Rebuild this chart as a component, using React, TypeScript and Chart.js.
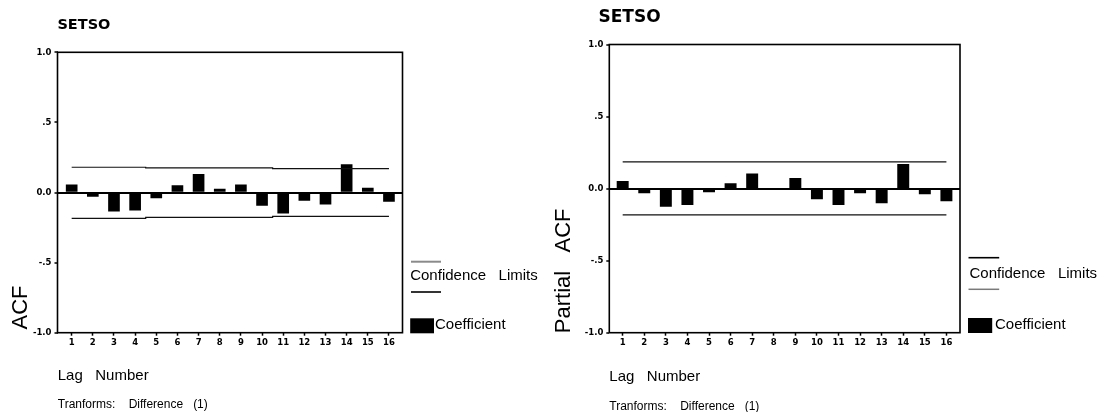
import React, { useEffect, useRef } from 'react';
import { Chart, registerables } from 'chart.js';

Chart.register(...registerables);

// ---------- data ----------
const lags = [1, 2, 3, 4, 5, 6, 7, 8, 9, 10, 11, 12, 13, 14, 15, 16];

const acfCoefficient = [0.055, -0.028, -0.133, -0.126, -0.038, 0.05, 0.13, 0.024, 0.055, -0.093, -0.147, -0.057, -0.083, 0.2, 0.031, -0.064];
const acfUpperLimit = [0.18, 0.18, 0.18, 0.18, 0.176, 0.176, 0.176, 0.176, 0.176, 0.176, 0.171, 0.171, 0.171, 0.171, 0.171, 0.171];
const acfLowerLimit = [-0.185, -0.185, -0.185, -0.185, -0.178, -0.178, -0.178, -0.178, -0.178, -0.178, -0.171, -0.171, -0.171, -0.171, -0.171, -0.171];

const pacfCoefficient = [0.051, -0.03, -0.123, -0.111, -0.023, 0.035, 0.102, -0.008, 0.072, -0.072, -0.111, -0.03, -0.099, 0.169, -0.037, -0.086];
const pacfUpperLimit = [0.185, 0.185, 0.185, 0.185, 0.185, 0.185, 0.185, 0.185, 0.185, 0.185, 0.185, 0.185, 0.185, 0.185, 0.185, 0.185];
const pacfLowerLimit = [-0.183, -0.183, -0.183, -0.183, -0.183, -0.183, -0.183, -0.183, -0.183, -0.183, -0.183, -0.183, -0.183, -0.183, -0.183, -0.183];

const yTickValues = [-1, -0.5, 0, 0.5, 1];
const yTickLabels = ['-1.0', '-.5', '0.0', '.5', '1.0'];

const seriesName = 'SETSO';
const xAxisTitle = 'Lag   Number';
const transformNote = 'Tranforms:    Difference   (1)';
const legendLimits = 'Confidence   Limits';
const legendCoefficient = 'Coefficient';

// ---------- layout ----------
interface Geo {
  canvasW: number;
  canvasH: number;
  canvasLeft: number;
  areaLeft: number;
  areaRight: number;
  areaTop: number;
  areaBottom: number;
  xMin: number;
  xMax: number;
  barW: number;
  tickFont: number;
  title: { x: number; y: number; size: number };
  yTitle: { text: string; x: number; y: number; size: number };
  lagTitle: { x: number; y: number };
  note: { x: number; y: number };
  leg: {
    line1: { x1: number; x2: number; y: number; color: string; w: number };
    text1: { x: number; y: number };
    line2: { x1: number; x2: number; y: number; color: string; w: number };
    box: { x: number; y: number; w: number; h: number };
    text2: { x: number; y: number };
  };
}

const leftGeo: Geo = {
  canvasW: 547,
  canvasH: 412,
  canvasLeft: 0,
  areaLeft: 57.5,
  areaRight: 402.5,
  areaTop: 52.3,
  areaBottom: 332.7,
  xMin: 0.33,
  xMax: 16.64,
  barW: 11,
  tickFont: 8.5,
  title: { x: 57.4, y: 25.7, size: 14.5 },
  yTitle: { text: 'ACF', x: 21, y: 307.5, size: 22 },
  lagTitle: { x: 57.75, y: 376 },
  note: { x: 57.75, y: 405 },
  leg: {
    line1: { x1: 411, x2: 441, y: 261.7, color: '#8a8a8a', w: 2 },
    text1: { x: 410.2, y: 276 },
    line2: { x1: 411, x2: 441, y: 292, color: '#000', w: 1.6 },
    box: { x: 410.2, y: 318.3, w: 23.8, h: 15 },
    text2: { x: 435, y: 325 },
  },
};

const rightGeo: Geo = {
  canvasW: 550,
  canvasH: 412,
  canvasLeft: 547,
  areaLeft: 62.3,
  areaRight: 413,
  areaTop: 44.5,
  areaBottom: 332.7,
  xMin: 0.38,
  xMax: 16.63,
  barW: 11.3,
  tickFont: 8.5,
  title: { x: 51.5, y: 17.2, size: 17 },
  yTitle: { text: 'Partial   ACF', x: 16.5, y: 270.8, size: 22 },
  lagTitle: { x: 62.3, y: 376.7 },
  note: { x: 62.3, y: 406.7 },
  leg: {
    line1: { x1: 421.5, x2: 452.2, y: 257.7, color: '#000', w: 1.6 },
    text1: { x: 422.5, y: 274.3 },
    line2: { x1: 421.5, x2: 452.2, y: 289.3, color: '#7a7a7a', w: 1.5 },
    box: { x: 421, y: 318, w: 24.2, h: 15 },
    text2: { x: 448, y: 325 },
  },
};

const TEXT_FONT = '"Liberation Sans", Arial, sans-serif';
const TICK_FONT = '"DejaVu Sans", sans-serif';

function makeOverlay(geo: Geo) {
  return {
    id: 'overlay' + geo.canvasLeft,
    afterDraw(chart: any) {
      const ctx: CanvasRenderingContext2D = chart.ctx;
      const a = chart.chartArea;
      ctx.save();
      // plot frame
      ctx.strokeStyle = '#000';
      ctx.lineWidth = 1.6;
      ctx.strokeRect(a.left, a.top, a.right - a.left, a.bottom - a.top);

      ctx.fillStyle = '#000';
      ctx.textBaseline = 'middle';
      ctx.textAlign = 'left';

      // title
      ctx.font = `bold ${geo.title.size}px ${TICK_FONT}`;
      ctx.fillText(seriesName, geo.title.x, geo.title.y);

      // y-axis title
      ctx.save();
      ctx.translate(geo.yTitle.x, geo.yTitle.y);
      ctx.rotate(-Math.PI / 2);
      ctx.textAlign = 'center';
      ctx.font = `${geo.yTitle.size}px ${TEXT_FONT}`;
      ctx.fillText(geo.yTitle.text, 0, 0);
      ctx.restore();

      // x title & note
      ctx.font = `15px ${TEXT_FONT}`;
      ctx.fillText(xAxisTitle, geo.lagTitle.x, geo.lagTitle.y);
      ctx.font = `12px ${TEXT_FONT}`;
      ctx.fillText(transformNote, geo.note.x, geo.note.y);

      // legend
      const L = geo.leg;
      ctx.strokeStyle = L.line1.color;
      ctx.lineWidth = L.line1.w;
      ctx.beginPath();
      ctx.moveTo(L.line1.x1, L.line1.y);
      ctx.lineTo(L.line1.x2, L.line1.y);
      ctx.stroke();
      ctx.strokeStyle = L.line2.color;
      ctx.lineWidth = L.line2.w;
      ctx.beginPath();
      ctx.moveTo(L.line2.x1, L.line2.y);
      ctx.lineTo(L.line2.x2, L.line2.y);
      ctx.stroke();
      ctx.font = `15px ${TEXT_FONT}`;
      ctx.fillText(legendLimits, L.text1.x, L.text1.y);
      ctx.fillRect(L.box.x, L.box.y, L.box.w, L.box.h);
      ctx.fillText(legendCoefficient, L.text2.x, L.text2.y);
      ctx.restore();
    },
  };
}

function CorrelogramPanel(props: { geo: Geo; values: number[]; upper: number[]; lower: number[] }) {
  const ref = useRef<HTMLCanvasElement | null>(null);
  const { geo, values, upper, lower } = props;

  useEffect(() => {
    if (!ref.current) return;
    const xAxisH = 20;
    const chart = new Chart(ref.current, {
      type: 'bar',
      data: {
        datasets: [
          {
            type: 'line',
            data: lags.map((x, i) => ({ x, y: upper[i] })),
            borderColor: '#111',
            borderWidth: 1.2,
            pointRadius: 0,
            stepped: 'middle',
            fill: false,
            order: 0,
          } as any,
          {
            type: 'line',
            data: lags.map((x, i) => ({ x, y: lower[i] })),
            borderColor: '#111',
            borderWidth: 1.2,
            pointRadius: 0,
            stepped: 'middle',
            fill: false,
            order: 0,
          } as any,
          {
            type: 'bar',
            data: lags.map((x, i) => ({ x, y: values[i] })),
            backgroundColor: '#000',
            borderWidth: 0,
            barThickness: geo.barW,
            order: 1,
          } as any,
        ],
      },
      options: {
        responsive: false,
        animation: false,
        events: [],
        layout: {
          padding: {
            left: 0,
            top: geo.areaTop,
            right: geo.canvasW - geo.areaRight,
            bottom: geo.canvasH - geo.areaBottom - xAxisH,
          },
        },
        plugins: {
          legend: { display: false },
          tooltip: { enabled: false },
          title: { display: false },
        },
        scales: {
          x: {
            type: 'linear',
            offset: false,
            min: geo.xMin,
            max: geo.xMax,
            afterBuildTicks: (s: any) => {
              s.ticks = lags.map((v) => ({ value: v }));
            },
            afterFit: (s: any) => {
              s.height = xAxisH;
            },
            ticks: {
              autoSkip: false,
              maxRotation: 0,
              padding: 2,
              color: '#000',
              font: { family: TICK_FONT, weight: 'bold', size: geo.tickFont },
              callback: (v: any) => String(v),
            },
            grid: { offset: false, drawOnChartArea: false, tickLength: 3, tickColor: '#000', tickWidth: 1.5 },
            border: { display: false },
          },
          y: {
            type: 'linear',
            min: -1,
            max: 1,
            afterBuildTicks: (s: any) => {
              s.ticks = yTickValues.map((v) => ({ value: v }));
            },
            afterFit: (s: any) => {
              s.width = geo.areaLeft;
            },
            ticks: {
              padding: 3,
              color: '#000',
              font: { family: TICK_FONT, weight: 'bold', size: geo.tickFont },
              callback: (_v: any, i: number) => yTickLabels[i],
            },
            grid: {
              color: (c: any) => (c.tick && c.tick.value === 0 ? '#000' : 'rgba(0,0,0,0)'),
              lineWidth: 2,
              tickColor: '#000',
              tickLength: 3,
              tickWidth: 1.5,
            },
            border: { display: false },
          },
        },
      } as any,
      plugins: [makeOverlay(geo)],
    });
    return () => chart.destroy();
  }, [geo, values, upper, lower]);

  return (
    <canvas
      ref={ref}
      width={geo.canvasW}
      height={geo.canvasH}
      style={{ position: 'absolute', left: geo.canvasLeft, top: 0, width: geo.canvasW, height: geo.canvasH }}
    />
  );
}

export default function App() {
  return (
    <div style={{ position: 'fixed', left: 0, top: 0, width: 1097, height: 412, background: '#fff', overflow: 'hidden' }}>
      <CorrelogramPanel geo={leftGeo} values={acfCoefficient} upper={acfUpperLimit} lower={acfLowerLimit} />
      <CorrelogramPanel geo={rightGeo} values={pacfCoefficient} upper={pacfUpperLimit} lower={pacfLowerLimit} />
    </div>
  );
}
